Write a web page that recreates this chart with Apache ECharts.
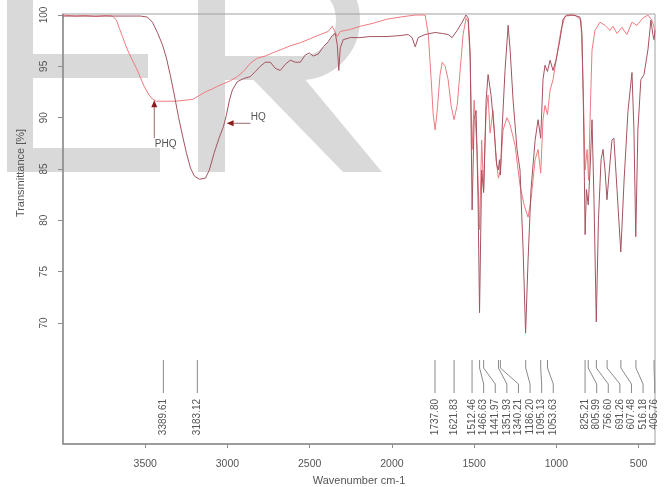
<!DOCTYPE html>
<html><head><meta charset="utf-8">
<script src="https://cdn.jsdelivr.net/npm/echarts@6/dist/echarts.min.js"></script>
<style>html,body{margin:0;padding:0;background:#fff}#c{width:666px;height:487px}</style>
</head><body><div id="c"></div>
<script>
// ---- data ----
const hqWave = [4000,3772,3590,3529,3487,3456,3426,3395,3371,3347,3323,3298,3274,3250,3225,3201,3171,3134,3110,3080,3049,3025,3007,2988,2970,2940,2903,2861,2830,2800,2770,2739,2709,2679,2648,2618,2587,2557,2527,2502,2478,2448,2417,2387,2363,2344,2332,2323,2314,2296,2253,2193,2132,2029,1950,1901,1877,1858,1840,1798,1737,1694,1658,1634,1603,1573,1549,1536,1524,1512,1500,1488,1476,1467,1454,1442,1427,1415,1397,1378,1363,1352,1346,1340,1330,1312,1293,1281,1263,1239,1221,1202,1187,1172,1154,1129,1111,1095,1081,1069,1054,1038,1020,1002,978,959,935,899,856,844,835,825,817,806,795,783,771,757,744,728,716,704,692,680,662,650,631,608,588,564,540,528,517,504,486,467,443,425,413,406,400];
const hqT    = [99.9,99.9,99.9,99.9,99.8,99.3,98.3,97.1,95.8,94.1,92.2,90.1,88.3,86.6,85.1,84.3,84.0,84.1,84.9,86.6,88.1,89.1,90.2,91.7,92.7,93.5,93.8,94.0,94.5,95.0,95.4,95.4,94.8,94.6,95.2,95.6,95.4,95.4,96.1,96.3,96.0,96.2,96.9,97.4,98.0,98.2,97.1,94.6,96.8,97.6,97.8,97.8,97.9,97.9,98.0,98.1,97.8,96.9,97.8,98.1,98.3,98.2,98.1,97.8,98.5,99.3,100.0,99.7,96.3,81.0,89.8,90.7,82.0,71.0,84.9,82.7,91.7,94.2,92.2,88.8,85.4,84.9,85.9,84.4,88.8,94.6,99.0,96.6,91.7,86.9,84.9,77.1,69.0,76.1,83.0,87.8,89.8,88.0,93.7,95.1,94.5,95.6,94.6,95.6,97.6,99.6,100,100,99.8,98.2,90.7,78.6,83.0,81.5,84.9,89.8,82.0,70.1,80.0,85.9,86.9,84.9,82.0,84.4,87.8,88.0,83.0,76.9,83.9,90.7,94.4,88.8,78.4,88.8,93.7,94.2,96.6,99.5,98.1,97.6,98.5];
const phqWave = [4000,3924,3863,3802,3742,3699,3675,3657,3638,3620,3602,3578,3553,3529,3505,3480,3456,3432,3377,3316,3256,3207,3177,3134,3092,3055,3025,2982,2940,2903,2861,2818,2770,2727,2679,2618,2557,2496,2436,2387,2363,2350,2332,2314,2253,2193,2114,2029,1950,1858,1798,1779,1761,1749,1737,1725,1707,1694,1676,1658,1640,1622,1603,1585,1567,1549,1536,1524,1512,1500,1482,1467,1454,1442,1427,1415,1403,1385,1366,1352,1340,1324,1300,1281,1251,1221,1196,1172,1154,1129,1111,1095,1081,1069,1054,1038,1020,996,972,947,886,850,838,825,813,804,795,783,765,735,704,674,656,631,601,571,540,510,474,443,419,400];
const phqT    = [100,99.9,99.95,99.85,99.95,99.9,99.5,98.7,97.9,97.1,96.4,95.6,94.8,93.9,93.0,92.3,91.8,91.6,91.6,91.6,91.7,91.8,92.1,92.5,92.8,93.1,93.3,93.6,94.0,94.5,95.3,95.8,96.0,96.3,96.6,97.0,97.3,97.7,98.1,98.4,98.9,98.5,97.9,98.4,98.6,98.9,99.2,99.6,99.8,100,100,98.2,93.7,90.3,88.8,90.6,94.2,95.4,95.0,93.7,91.2,89.8,91.2,94.6,98.1,99.7,99.3,95.6,86.9,91.7,86.9,79.1,87.8,83.0,90.7,92.2,88.5,90.7,85.9,84.1,84.9,88.8,90.0,89.3,87.3,83.4,81.5,80.3,82.0,85.9,86.9,84.6,89.8,91.2,90.3,92.7,93.7,96.1,98.5,99.9,100,99.5,93.7,84.9,86.9,83.9,89.8,96.6,98.5,99.3,99.0,98.5,98.9,98.2,98.8,98.1,99.3,99.0,99.7,100,99.5,98.5];
const peakWaves = [3389.61,3183.12,1737.80,1621.83,1512.46,1466.63,1441.97,1351.93,1340.21,1186.20,1095.13,1053.63,825.21,805.99,756.60,691.26,607.48,516.18,405.76];
const peakLabels = ['3389.61','3183.12','1737.80','1621.83','1512.46','1466.63','1441.97','1351.93','1340.21','1186.20','1095.13','1053.63','825.21','805.99','756.60','691.26','607.48','516.18','405.76'];
const xTicks = [500,1000,1500,2000,2500,3000,3500];
const yTicks = [70,75,80,85,90,95,100];
const seriesNames = ['PHQ','HQ'];
const xTitle = 'Wavenumber cm-1';
const yTitle = 'Transmittance [%]';

const FONT = 'Liberation Sans, Arial, sans-serif';
const zip = (a,b)=>a.map((v,i)=>[v,b[i]]);
const chart = echarts.init(document.getElementById('c'), null, {renderer:'canvas'});
const AX = '#8c8c8c';
chart.setOption({
  animation:false,
  grid:{left:63,right:11,top:14,bottom:43,outerBoundsMode:'none',containLabel:false,show:true,borderColor:'#a0a0a0',borderWidth:1,backgroundColor:'transparent'},
  xAxis:{type:'value',inverse:true,min:400,max:4000,z:5,
    axisLine:{show:true,lineStyle:{color:AX,width:1.5}},
    axisTick:{show:true,customValues:xTicks,length:4,lineStyle:{color:AX}},
    axisLabel:{customValues:xTicks,formatter:v=>String(v),color:'#555',fontSize:10.5,fontFamily:FONT,margin:15},
    splitLine:{show:false},
    name:xTitle,nameLocation:'middle',nameGap:31,nameTextStyle:{color:'#555',fontSize:11,fontFamily:FONT}},
  yAxis:{type:'value',min:58.2,max:100.1,z:5,
    axisLine:{show:true,lineStyle:{color:AX,width:1.5}},
    axisTick:{show:true,customValues:yTicks,length:5,lineStyle:{color:AX}},
    axisLabel:{customValues:yTicks,formatter:v=>String(v),color:'#555',fontSize:10,fontFamily:FONT,rotate:90,margin:14},
    splitLine:{show:false}},
  series:[
    {name:seriesNames[0],type:'line',data:zip(phqWave,phqT),showSymbol:false,z:6,
     lineStyle:{color:'#ef7a80',width:1}},
    {name:seriesNames[1],type:'line',data:zip(hqWave,hqT),showSymbol:false,z:7,
     lineStyle:{color:'#a4535f',width:1}}
  ]
});

// ---- decorations computed through the axes ----
const px = (w,t)=>chart.convertToPixel({gridIndex:0},[w,t]);
const G = [];
const WM = '#d9d9d9';
// watermark letters "ER"
G.push({type:'rect',z:-10,shape:{x:7,y:-40,width:26,height:212},style:{fill:WM}});
G.push({type:'rect',z:-10,shape:{x:7,y:-40,width:160,height:24},style:{fill:WM}});
G.push({type:'rect',z:-10,shape:{x:7,y:54,width:141,height:24},style:{fill:WM}});
G.push({type:'rect',z:-10,shape:{x:7,y:148,width:153,height:24},style:{fill:WM}});
G.push({type:'rect',z:-10,shape:{x:198,y:-40,width:27,height:212},style:{fill:WM}});
G.push({type:'rect',z:-10,shape:{x:212,y:-40,width:90,height:24},style:{fill:WM}});
G.push({type:'rect',z:-10,shape:{x:212,y:56,width:90,height:24},style:{fill:WM}});
G.push({type:'arc',z:-10,shape:{cx:300,cy:20,r:48,startAngle:-Math.PI/2,endAngle:Math.PI/2,clockwise:true},style:{fill:null,stroke:WM,lineWidth:24}});
G.push({type:'polygon',z:-10,shape:{points:[[240,66],[294,66],[382,172],[343,172]]},style:{fill:WM}});

// axis title y
G.push({type:'text',z:20,x:21,y:173,rotation:Math.PI/2,style:{text:yTitle,fill:'#555',font:'11px '+FONT,align:'center',verticalAlign:'middle'}});

// peak labels with leader lines
let lastX = -1e9;
const yTop = 360;
peakWaves.forEach((w,i)=>{
  const p = px(w,100)[0];
  const lx = Math.max(p, lastX + 11.6);
  lastX = lx;
  G.push({type:'polyline',z:20,shape:{points:[[p,yTop],[p,yTop+8],[lx,yTop+24],[lx,yTop+33]]},style:{stroke:'#8a8a8a',lineWidth:1,fill:null}});
  G.push({type:'text',z:20,x:lx,y:yTop+39,rotation:Math.PI/2,style:{text:peakLabels[i],fill:'#555',font:'10px '+FONT,align:'right',verticalAlign:'middle'}});
});

// arrows for series labels
function arrow(from,to,color){
  const a = px(from[0],from[1]), b = px(to[0],to[1]);
  const dx=b[0]-a[0], dy=b[1]-a[1], L=Math.hypot(dx,dy), ux=dx/L, uy=dy/L;
  const hl=7, hw=3;
  const base=[b[0]-ux*hl,b[1]-uy*hl];
  G.push({type:'line',z:20,shape:{x1:a[0],y1:a[1],x2:base[0],y2:base[1]},style:{stroke:'#9a6a6a',lineWidth:1}});
  G.push({type:'polygon',z:20,shape:{points:[b,[base[0]-uy*hw,base[1]+ux*hw],[base[0]+uy*hw,base[1]-ux*hw]]},style:{fill:color}});
}
arrow([3445,88.0],[3445,91.7],'#8b1a1a');
arrow([2860,89.45],[3005,89.45],'#8b1a1a');
const pl = px(3442,87.4);
G.push({type:'text',z:20,x:pl[0],y:pl[1],style:{text:seriesNames[0],fill:'#555',font:'10px '+FONT,align:'left',verticalAlign:'middle'}});
const hl = px(2858,90.0);
G.push({type:'text',z:20,x:hl[0],y:hl[1],style:{text:seriesNames[1],fill:'#555',font:'10px '+FONT,align:'left',verticalAlign:'middle'}});

chart.setOption({graphic:{elements:G}});
</script></body></html>
